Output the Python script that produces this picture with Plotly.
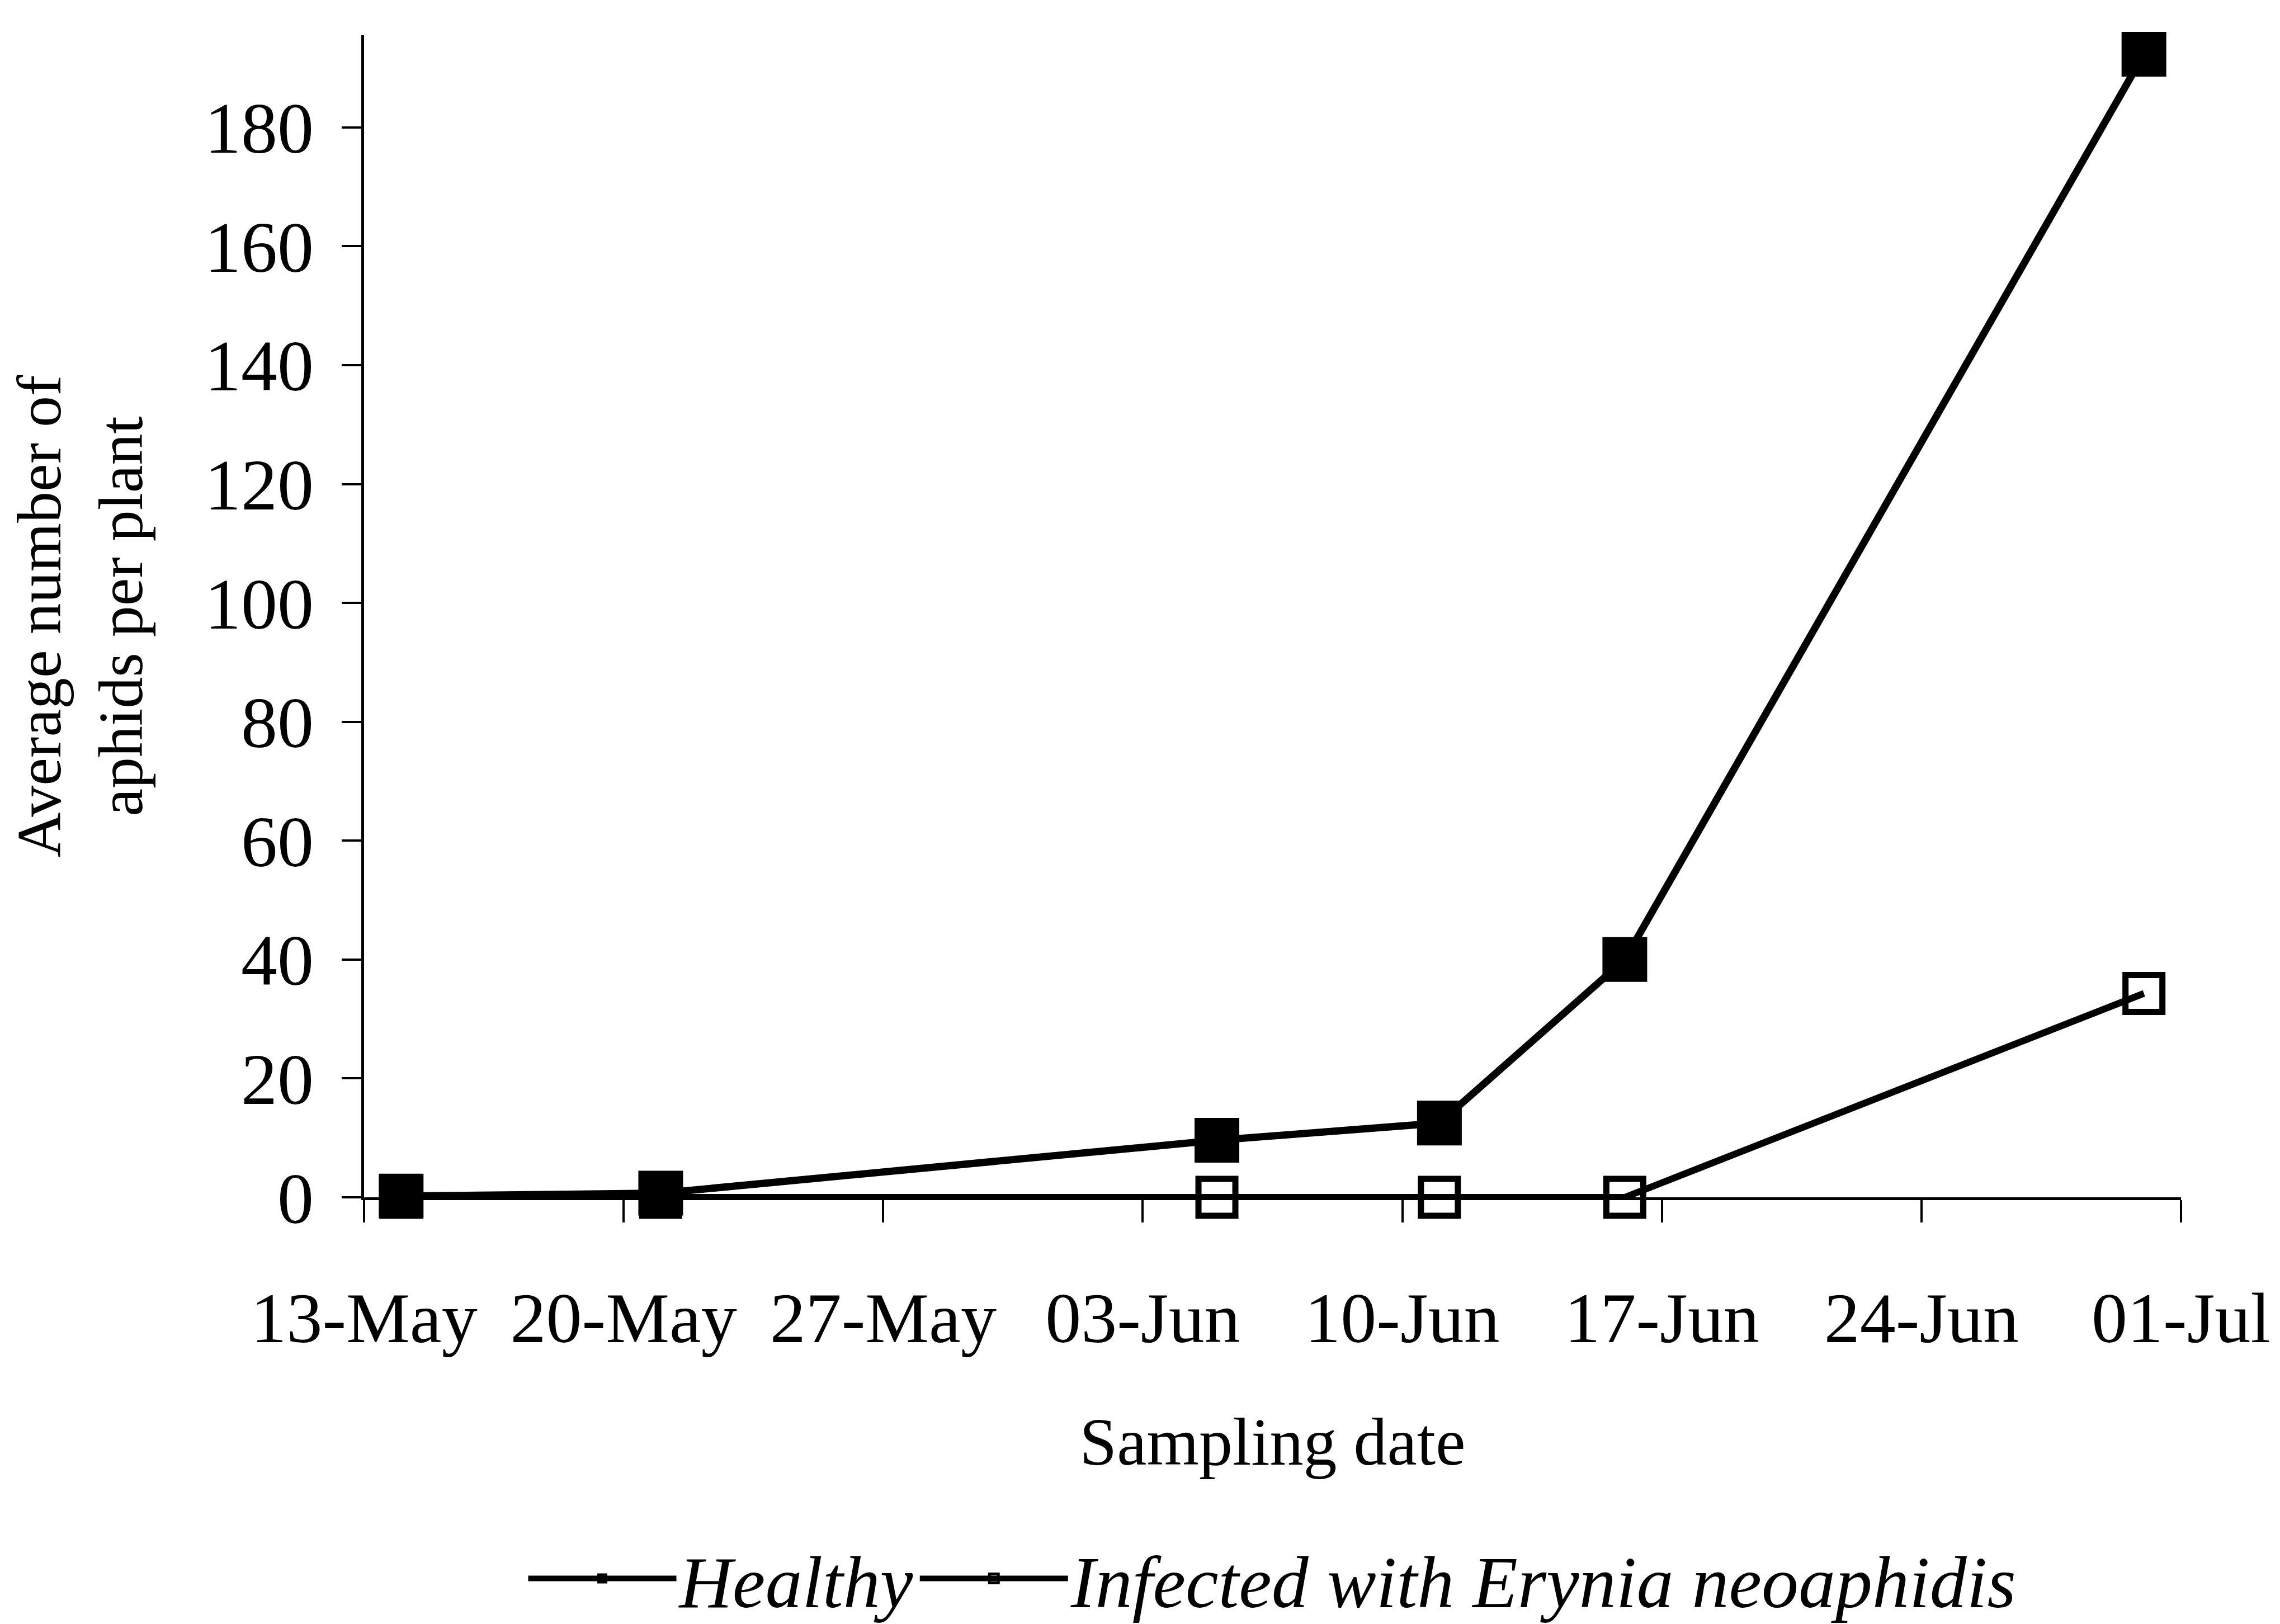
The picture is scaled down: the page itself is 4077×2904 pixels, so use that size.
import plotly.graph_objects as go

# ---- data ----
dates = ["2001-05-14", "2001-05-21", "2001-06-05", "2001-06-11", "2001-06-16", "2001-06-30"]
healthy = [0.2, 0.7, 9.6, 12.5, 40.0, 192.3]
infected = [0.0, 0.0, 0.0, 0.0, 0.0, 34.3]
series_names = ["Healthy", "Infected with Erynia neoaphidis"]
y_ticks = [0, 20, 40, 60, 80, 100, 120, 140, 160, 180]
x_range = ["2001-05-13", "2001-07-01"]

FONT = "Liberation Serif, Times New Roman, serif"

fig = go.Figure()
# infected first so the filled healthy markers sit on top at the shared zero points
fig.add_trace(go.Scatter(
    x=dates, y=infected, name=series_names[1], mode="lines+markers",
    line=dict(color="black", width=12),
    marker=dict(symbol="square-open", size=66, color="black",
                line=dict(color="black", width=11)),
    cliponaxis=False,
))
fig.add_trace(go.Scatter(
    x=dates, y=healthy, name=series_names[0], mode="lines+markers",
    line=dict(color="black", width=13),
    marker=dict(symbol="square", size=78, color="black",
                line=dict(color="black", width=2)),
    cliponaxis=False,
))

fig.update_layout(
    width=4077, height=2904,
    paper_bgcolor="white", plot_bgcolor="white",
    margin=dict(l=643, r=185, t=55, b=771, autoexpand=False),
    font=dict(family=FONT, color="black"),
    showlegend=True,
    legend=dict(
        orientation="h", x=0.5, xanchor="center", y=-0.328, yanchor="middle",
        traceorder="reversed",
        font=dict(family=FONT, size=132, style="italic"),
        itemsizing="trace", itemwidth=265,
    ),
    xaxis=dict(
        type="date", range=x_range, tick0=x_range[0], dtick=7 * 86400000,
        tickformat="%d-%b", showgrid=False, zeroline=False,
        showline=True, linecolor="black", linewidth=5,
        ticks="outside", ticklen=40, tickwidth=4, tickcolor="black",
        tickfont=dict(family=FONT, size=128),
        ticklabelstandoff=60,
        title=dict(text="Sampling date", font=dict(family=FONT, size=120), standoff=110),
    ),
    yaxis=dict(
        range=[0, 195.5], tickvals=y_ticks, showgrid=False, zeroline=False,
        showline=True, linecolor="black", linewidth=5,
        ticks="outside", ticklen=35, tickwidth=4, tickcolor="black",
        tickfont=dict(family=FONT, size=130),
        ticklabelstandoff=24,
        title=dict(text="Average number of<br>aphids per plant",
                   font=dict(family=FONT, size=112), standoff=80),
    ),
)

fig.write_html("out.html")
